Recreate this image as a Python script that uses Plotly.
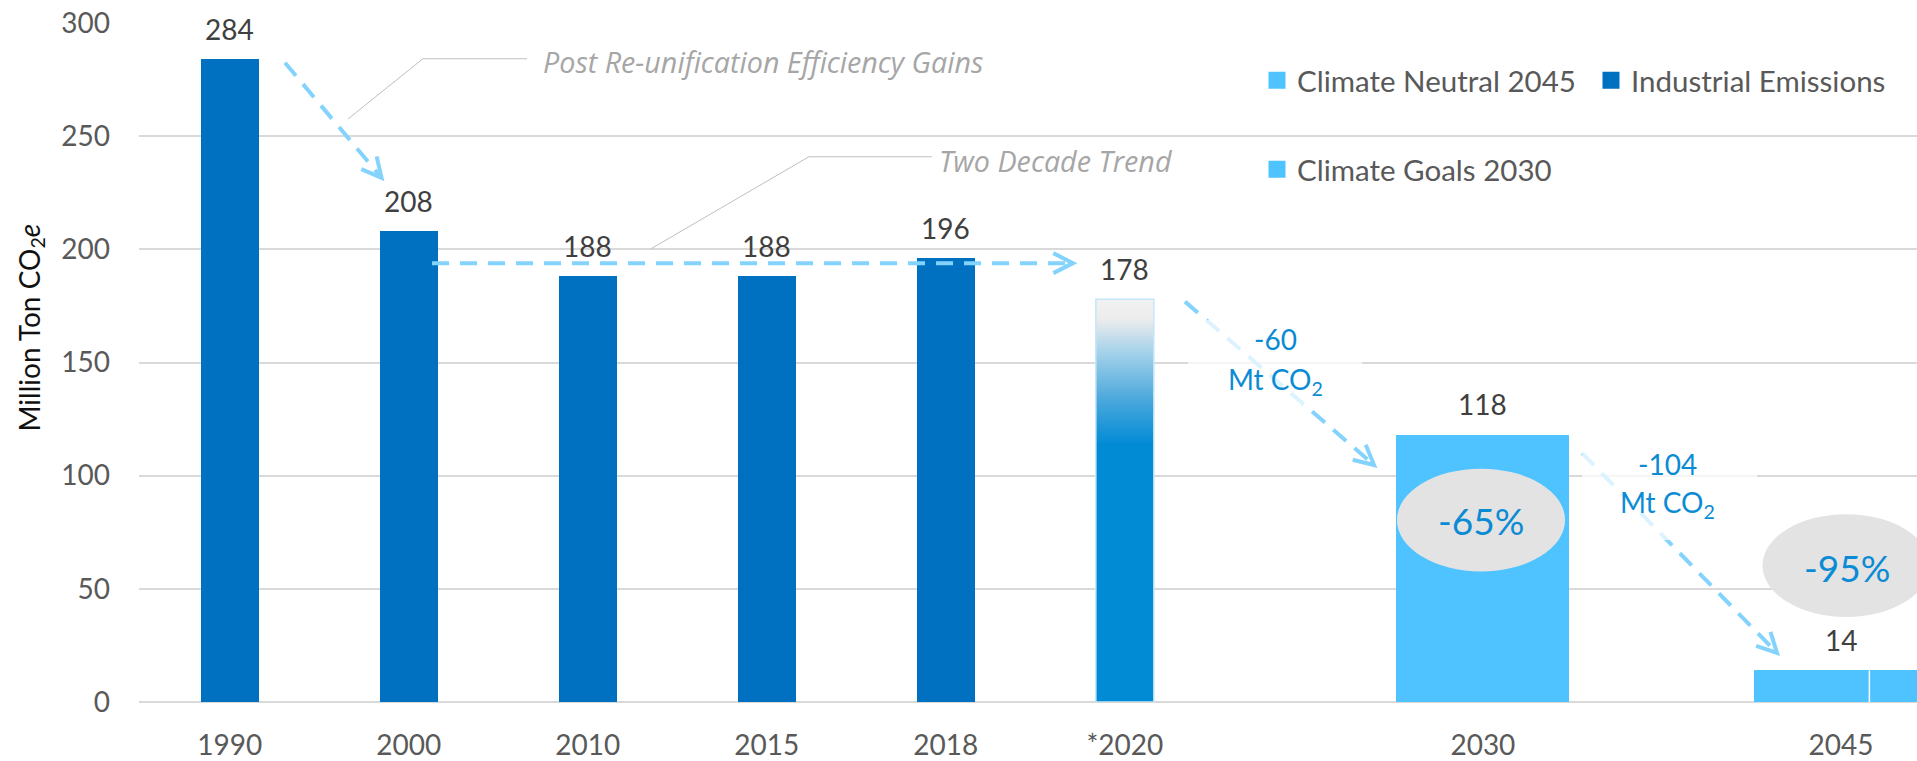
import math
import plotly.graph_objects as go

# ---------------- data ----------------
categories = ["1990", "2000", "2010", "2015", "2018", "*2020", "2030", "2045"]
industrial_years = ["1990", "2000", "2010", "2015", "2018"]
industrial_values = [284, 208, 188, 188, 196]
estimate_years = ["*2020"]
estimate_values = [178]
goal_years = ["2030"]
goal_values = [118]
neutral_years = ["2045"]
neutral_values = [14]
reduction_labels = ["-60", "-104"]
percent_labels = ["-65%", "-95%"]
callout_labels = ["Post Re-unification Efficiency Gains", "Two Decade Trend"]
series_names = ["Climate Neutral 2045", "Industrial Emissions", "Climate Goals 2030"]
y_ticks = [0, 50, 100, 150, 200, 250, 300]

# ---------------- layout geometry ----------------
slot_index = [0, 1, 2, 3, 4, 5, 7, 9]
slot = dict(zip(categories, slot_index))
W, H = 1917, 761
ML, MR, MT, MB = 139, 0, 23, 59
PW, PH = W - ML - MR, H - MT - MB
X_RANGE = [-0.507, 9.425]
Y_RANGE = [0, 300]


def px_x(v):
    return ML + (v - X_RANGE[0]) / (X_RANGE[1] - X_RANGE[0]) * PW


def px_y(v):
    return MT + (Y_RANGE[1] - v) / (Y_RANGE[1] - Y_RANGE[0]) * PH


def dx(p):
    return X_RANGE[0] + (p - ML) / PW * (X_RANGE[1] - X_RANGE[0])


def dy(p):
    return Y_RANGE[1] - (p - MT) / PH * (Y_RANGE[1] - Y_RANGE[0])


FONT = "Lato, 'Open Sans', sans-serif"
ITFONT = "'Open Sans', Lato, sans-serif"
DARK = "#0070c0"
LIGHT = "#4fc3ff"
MID = "#028bd5"
ARROW = "#83d3fd"
TEXTBLUE = "#0b8bd3"
NARROW_W = 0.324
WIDE_W = 0.967

fig = go.Figure()

# Industrial emissions bars
fig.add_trace(go.Bar(
    x=[slot[c] for c in industrial_years], y=industrial_values, width=NARROW_W,
    marker=dict(color=DARK, line=dict(width=0)), showlegend=False, hoverinfo="x+y"))

# *2020 estimate bar with vertical gradient
for c, v in zip(estimate_years, estimate_values):
    p = slot[c]
    h = NARROW_W / 2
    fig.add_trace(go.Scatter(
        x=[p - h, p + h, p + h, p - h, p - h], y=[0, 0, v, v, 0],
        mode="lines", fill="toself",
        line=dict(color="#c4e6f9", width=1.5),
        fillgradient=dict(type="vertical", start=0, stop=v,
                          colorscale=[[0, MID], [0.64, MID], [0.75, "#4aa8dc"],
                                      [0.87, "#a6d2ea"], [0.95, "#ececec"], [1, "#f2f2f2"]]),
        showlegend=False, hoverinfo="skip"))

# 2030 goal bar
fig.add_trace(go.Bar(
    x=[slot[c] for c in goal_years], y=goal_values, width=WIDE_W,
    marker=dict(color=LIGHT, line=dict(width=0)), showlegend=False))

# 2045 neutral bar
fig.add_trace(go.Bar(
    x=[slot[c] for c in neutral_years], y=neutral_values, width=WIDE_W,
    marker=dict(color=LIGHT, line=dict(width=0)), showlegend=False))

# legend entries
legend_colors = [LIGHT, DARK, LIGHT]
legend_ids = ["legend", "legend2", "legend3"]
for name, col, lid in zip(series_names, legend_colors, legend_ids):
    fig.add_trace(go.Bar(x=[None], y=[None], name=name, legend=lid,
                         marker=dict(color=col, line=dict(color=col, width=5)),
                         showlegend=True))

annotations = []
shapes = []

# data labels
label_font = dict(family=FONT, size=28, color="#404040")
all_years = industrial_years + estimate_years + goal_years + neutral_years
all_vals = industrial_values + estimate_values + goal_values + neutral_values
for c, v in zip(all_years, all_vals):
    a = dict(x=slot[c], y=v, text=str(v), showarrow=False, yanchor="middle",
             yshift=30.5, font=label_font)
    if v == max(all_vals):
        a.update(bgcolor="white", borderpad=4)
    annotations.append(a)

# callout texts with leader lines
callout_font = dict(family=ITFONT, size=28.7, color="#a6a6a6")
annotations.append(dict(x=1.7385, y=283.0, text="<i>" + callout_labels[0] + "</i>",
                        xanchor="left", yanchor="middle", showarrow=False, font=callout_font))
annotations.append(dict(x=3.951, y=239.3, text="<i>" + callout_labels[1] + "</i>",
                        xanchor="left", yanchor="middle", showarrow=False, font=callout_font))
shapes.append(dict(type="path", path="M0.6605,257.6 L1.079,284.2 L1.660,284.2",
                   line=dict(color="#bfbfbf", width=1), layer="above"))
shapes.append(dict(type="path", path="M2.352,200.2 L3.235,240.9 L3.922,240.9",
                   line=dict(color="#bfbfbf", width=1), layer="above"))

# dashed arrows
arrows = [
    (0.3086, 282.46, 0.848, 231.6),
    (1.130, 193.9, 4.710, 193.9),
    (5.336, 176.9, 6.392, 104.7),
    (7.554, 110.0, 8.643, 21.7),
]


def chevron(x0, y0, x1, y1, arm=22.0, half=27.0):
    X0, Y0, X1, Y1 = px_x(x0), px_y(y0), px_x(x1), px_y(y1)
    ang = math.atan2(Y0 - Y1, X0 - X1)
    pts = []
    for s in (1, -1):
        a = ang + s * math.radians(half)
        pts.append((dx(X1 + arm * math.cos(a)), dy(Y1 + arm * math.sin(a))))
    return "M{:.4f},{:.3f} L{:.4f},{:.3f} L{:.4f},{:.3f}".format(
        pts[0][0], pts[0][1], x1, y1, pts[1][0], pts[1][1])


for (x0, y0, x1, y1) in arrows:
    shapes.append(dict(type="line", x0=x0, y0=y0, x1=x1, y1=y1,
                       line=dict(color=ARROW, width=4, dash="17px,11px"), layer="above"))
    shapes.append(dict(type="path", path=chevron(x0, y0, x1, y1),
                       line=dict(color=ARROW, width=4), layer="above"))

# semi-transparent text boxes behind reduction labels
for (bx0, bx1, by0, by1) in [(5.353, 6.325, 131.2, 168.8), (7.554, 8.532, 71.6, 110.5)]:
    shapes.append(dict(type="rect", x0=bx0, x1=bx1, y0=by0, y1=by1,
                       fillcolor="rgba(255,255,255,0.72)", line=dict(width=0), layer="above"))

red_font = dict(family=FONT, size=28, color=TEXTBLUE)
for lab, (tx, ty1, ty2) in zip(reduction_labels, [(5.839, 160.2, 141.8), (8.034, 105.2, 87.3)]):
    annotations.append(dict(x=tx, y=ty1, text=lab, showarrow=False, font=red_font,
                            xanchor="center", yanchor="middle"))
    annotations.append(dict(x=tx, y=ty2, text="Mt CO<sub>2</sub>", showarrow=False,
                            font=red_font, xanchor="center", yanchor="middle"))

# divider on the 2045 bar
for c, v in zip(neutral_years, neutral_values):
    xd = slot[c] + 0.159
    shapes.append(dict(type="line", x0=xd, x1=xd, y0=0, y1=v,
                       line=dict(color="white", width=1.5), layer="above"))

# percentage ellipses
for lab, (ex0, ex1, ey0, ey1, tx, ty) in zip(percent_labels, [
        (6.520, 7.459, 57.7, 103.1, 6.989, 80.4),
        (8.562, 9.497, 37.6, 83.0, 9.033, 59.6)]):
    shapes.append(dict(type="circle", x0=ex0, x1=ex1, y0=ey0, y1=ey1,
                       fillcolor="#e3e3e3", line=dict(width=0), layer="above"))
    annotations.append(dict(x=tx, y=ty, text=lab, showarrow=False,
                            font=dict(family=FONT, size=37, color=TEXTBLUE),
                            xanchor="center", yanchor="middle"))

# y axis title
annotations.append(dict(xref="paper", x=(31 - ML) / PW, y=165.5, yref="y",
                        text="Million Ton CO<sub>2</sub><i>e</i>", textangle=-90,
                        showarrow=False, xanchor="center", yanchor="middle",
                        font=dict(family=FONT, size=28, color="#111111")))

legend_common = dict(orientation="h", xanchor="left", yanchor="middle",
                     bgcolor="rgba(0,0,0,0)", borderwidth=0,
                     font=dict(family=FONT, size=29.5, color="#595959"))
fig.update_layout(
    width=W, height=H,
    margin=dict(l=ML, r=MR, t=MT, b=MB, pad=0),
    paper_bgcolor="white", plot_bgcolor="white",
    barmode="overlay",
    bargap=0,
    xaxis=dict(range=X_RANGE, tickvals=[slot[c] for c in categories], ticktext=categories,
               showgrid=False, zeroline=False, showline=False, ticks="",
               ticklabelstandoff=24,
               tickfont=dict(family=FONT, size=28, color="#595959"), fixedrange=True),
    yaxis=dict(range=Y_RANGE, tickvals=y_ticks, showgrid=True, gridcolor="#d9d9d9",
               gridwidth=1.5, zeroline=True, zerolinecolor="#d9d9d9", zerolinewidth=2,
               showline=False, ticks="", ticklabelstandoff=28,
               tickfont=dict(family=FONT, size=28, color="#595959"), fixedrange=True),
    legend=dict(x=(1257 - ML) / PW, y=(702 - 80.5) / PH, **legend_common),
    legend2=dict(x=(1591 - ML) / PW, y=(702 - 80.5) / PH, **legend_common),
    legend3=dict(x=(1257 - ML) / PW, y=(702 - 169.5) / PH, **legend_common),
    annotations=annotations,
    shapes=shapes,
    showlegend=True,
)

fig.write_html("out.html", config={"displayModeBar": False},
               post_script="document.body.style.margin='0px';document.body.style.overflow='hidden';")
